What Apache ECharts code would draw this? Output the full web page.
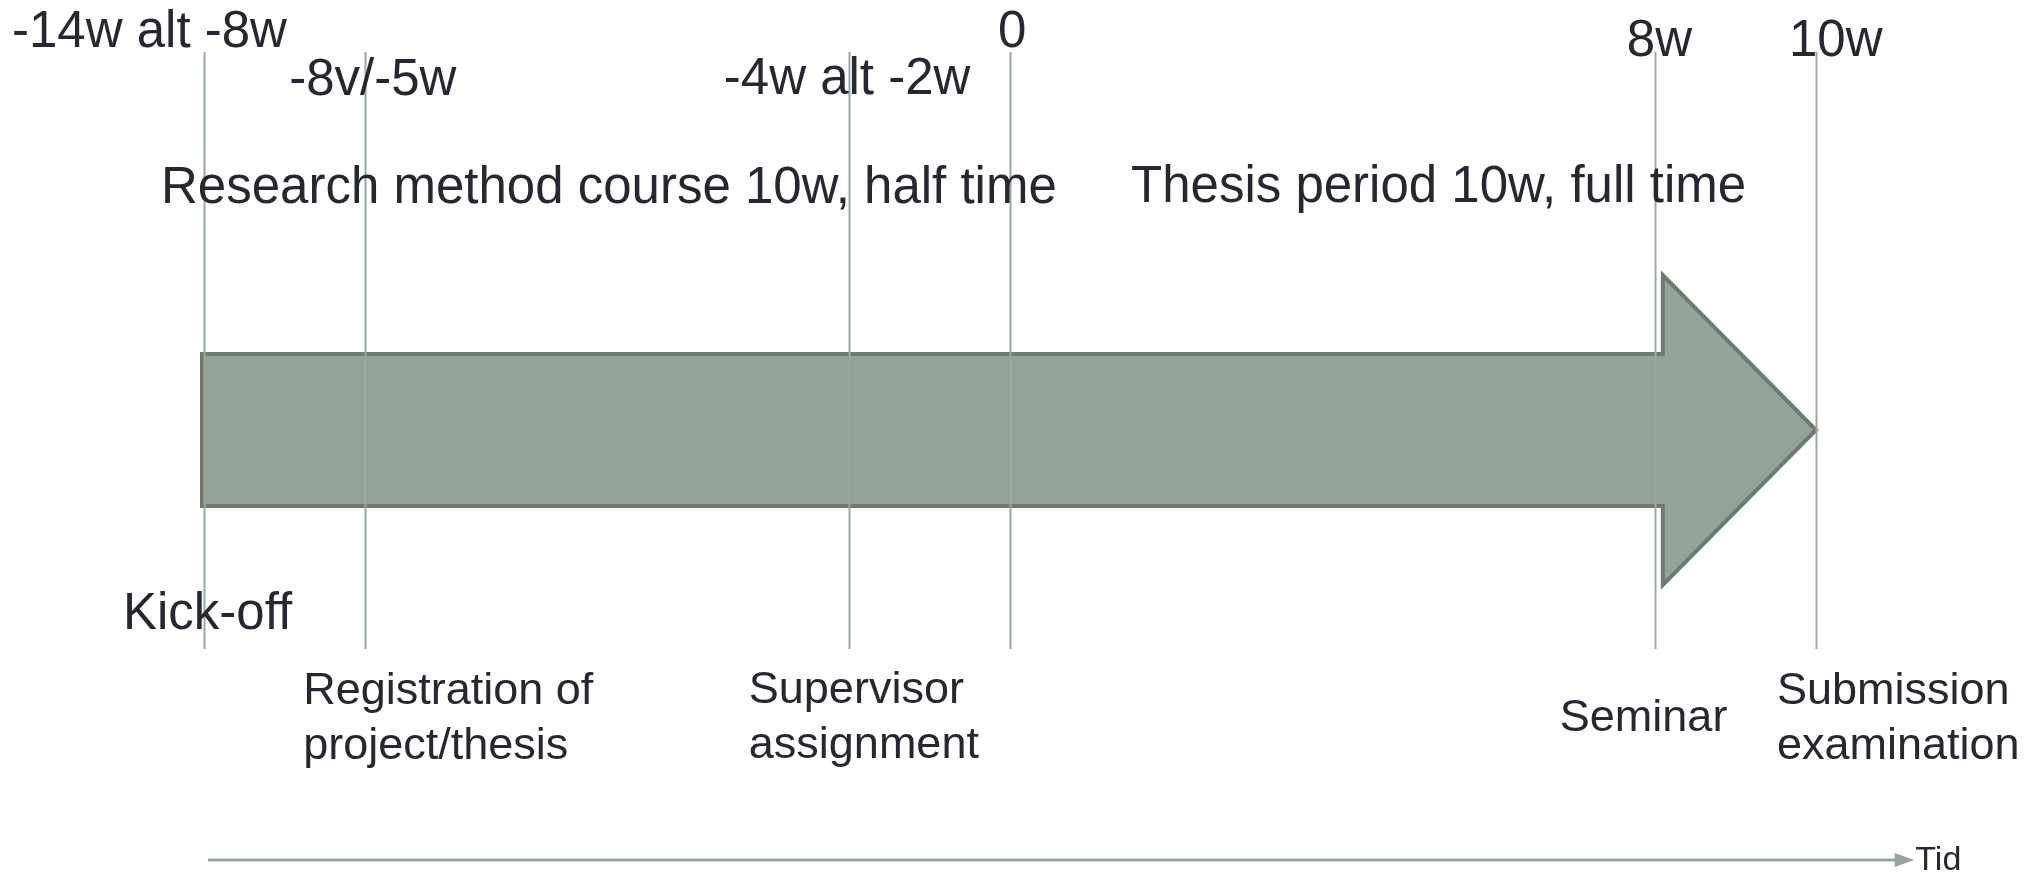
<!DOCTYPE html>
<html>
<head>
<meta charset="utf-8">
<script src="https://cdn.jsdelivr.net/npm/echarts@6/dist/echarts.min.js"></script>
<style>
  html, body { margin: 0; padding: 0; background: #ffffff; }
  #chart { width: 2038px; height: 874px; }
</style>
</head>
<body>
<div id="chart"></div>
<script>
// ---- data ----
const milestoneWeeks = [-10, -8, -2, 0, 8, 10];
const topLabels = ['-14w alt -8w', '-8v/-5w', '-4w alt -2w', '0', '8w', '10w'];
const bottomLabels = ['Kick-off', 'Registration of\nproject/thesis', 'Supervisor\nassignment', '', 'Seminar', 'Submission\nexamination'];
const phaseNames = ['Research method course 10w, half time', 'Thesis period 10w, full time'];
const phaseStart = [-10, 0];
const phaseEnd = [0, 10];
const timeAxisName = 'Tid';

// ---- layout (pixel offsets / sizes, kept apart from data) ----
const topLayout = [
  { dx: -192, y: 33 }, { dx: -76, y: 81 }, { dx: -125, y: 80 },
  { dx: -12, y: 33 }, { dx: -28, y: 42 }, { dx: -27, y: 42 }
];
const bottomLayout = [
  { dx: -81, y: 615, size: 51 }, { dx: -62, y: 719, size: 45 }, { dx: -100, y: 718, size: 45 },
  { dx: 0, y: 719, size: 45 }, { dx: -95, y: 719, size: 45 }, { dx: -39, y: 719, size: 45 }
];
const phaseLayout = [{ dx: -43, y: 189 }, { dx: 121, y: 188 }];

const FONT = '"Liberation Sans", Arial, Helvetica, sans-serif';
const TEXT_COLOR = '#272731';
const LINE_COLOR = '#98a99e';
const FILL = '#93a398';
const STROKE = '#6e7a70';

const chart = echarts.init(document.getElementById('chart'), null, { renderer: 'canvas' });

const option = {
  backgroundColor: '#ffffff',
  animation: false,
  grid: { left: 204, right: 222, top: 0, bottom: 0 },
  xAxis: { type: 'value', min: -10, max: 10, show: false },
  yAxis: { type: 'value', min: 0, max: 874, inverse: true, show: false },
  series: [
    // big arrow spanning both phases
    {
      type: 'custom', clip: false, z: 1,
      data: [[phaseStart[0], phaseEnd[phaseEnd.length - 1]]],
      renderItem: function (params, api) {
        const s = api.value(0), e = api.value(1);
        const headBase = e - 1.9;
        const pts = [
          api.coord([s - 0.025, 354]),
          api.coord([headBase, 354]),
          api.coord([headBase, 275]),
          api.coord([e, 430]),
          api.coord([headBase, 585]),
          api.coord([headBase, 506]),
          api.coord([s - 0.025, 506])
        ];
        return {
          type: 'polygon',
          shape: { points: pts },
          style: { fill: FILL, stroke: STROKE, lineWidth: 4, lineJoin: 'miter' }
        };
      }
    },
    // milestone vertical lines
    {
      type: 'custom', clip: false, z: 2,
      data: milestoneWeeks.map(w => [w, 0]),
      renderItem: function (params, api) {
        const w = api.value(0);
        const p1 = api.coord([w, 52]);
        const p2 = api.coord([w, 649]);
        return {
          type: 'line',
          shape: { x1: Math.round(p1[0]) + 0.5, y1: p1[1], x2: Math.round(p2[0]) + 0.5, y2: p2[1] },
          style: { stroke: LINE_COLOR, lineWidth: 2 }
        };
      }
    },
    // top labels
    {
      type: 'custom', clip: false, z: 3,
      data: milestoneWeeks.map(w => [w, 0]),
      renderItem: function (params, api) {
        const i = params.dataIndex;
        const p = api.coord([api.value(0), topLayout[i].y]);
        return {
          type: 'text',
          x: p[0] + topLayout[i].dx, y: p[1],
          style: {
            text: topLabels[i], fill: TEXT_COLOR, font: '51px ' + FONT,
            align: 'left', verticalAlign: 'middle'
          }
        };
      }
    },
    // bottom labels
    {
      type: 'custom', clip: false, z: 3,
      data: milestoneWeeks.map(w => [w, 0]),
      renderItem: function (params, api) {
        const i = params.dataIndex;
        const L = bottomLayout[i];
        const p = api.coord([api.value(0), L.y]);
        return {
          type: 'text',
          x: p[0] + L.dx, y: p[1],
          style: {
            text: bottomLabels[i], fill: TEXT_COLOR, font: L.size + 'px ' + FONT,
            lineHeight: 55, align: 'left', verticalAlign: 'middle'
          }
        };
      }
    },
    // phase labels
    {
      type: 'custom', clip: false, z: 3,
      data: phaseStart.map((s, i) => [s, phaseEnd[i]]),
      renderItem: function (params, api) {
        const i = params.dataIndex;
        const p = api.coord([api.value(0), phaseLayout[i].y]);
        return {
          type: 'text',
          x: p[0] + phaseLayout[i].dx, y: p[1],
          style: {
            text: phaseNames[i], fill: TEXT_COLOR, font: '51px ' + FONT,
            align: 'left', verticalAlign: 'middle'
          }
        };
      }
    },
    // time axis arrow at the bottom
    {
      type: 'custom', clip: false, z: 2,
      data: [[phaseStart[0], phaseEnd[phaseEnd.length - 1]]],
      renderItem: function (params, api) {
        const s = api.value(0);
        const a = api.coord([s + 0.05, 860]);
        const b = api.coord([11.0, 860]);
        const tip = api.coord([11.22, 860]);
        return {
          type: 'group',
          children: [
            { type: 'line', shape: { x1: a[0], y1: a[1], x2: b[0], y2: b[1] },
              style: { stroke: '#97a59b', lineWidth: 3 } },
            { type: 'polygon',
              shape: { points: [[b[0] - 2, b[1] - 7], [tip[0], tip[1]], [b[0] - 2, b[1] + 7]] },
              style: { fill: '#97a59b' } },
            { type: 'text', x: tip[0] + 1, y: tip[1] + 1,
              style: { text: timeAxisName, fill: TEXT_COLOR, font: '34px ' + FONT,
                       align: 'left', verticalAlign: 'middle' } }
          ]
        };
      }
    }
  ]
};

chart.setOption(option);
</script>
</body>
</html>
